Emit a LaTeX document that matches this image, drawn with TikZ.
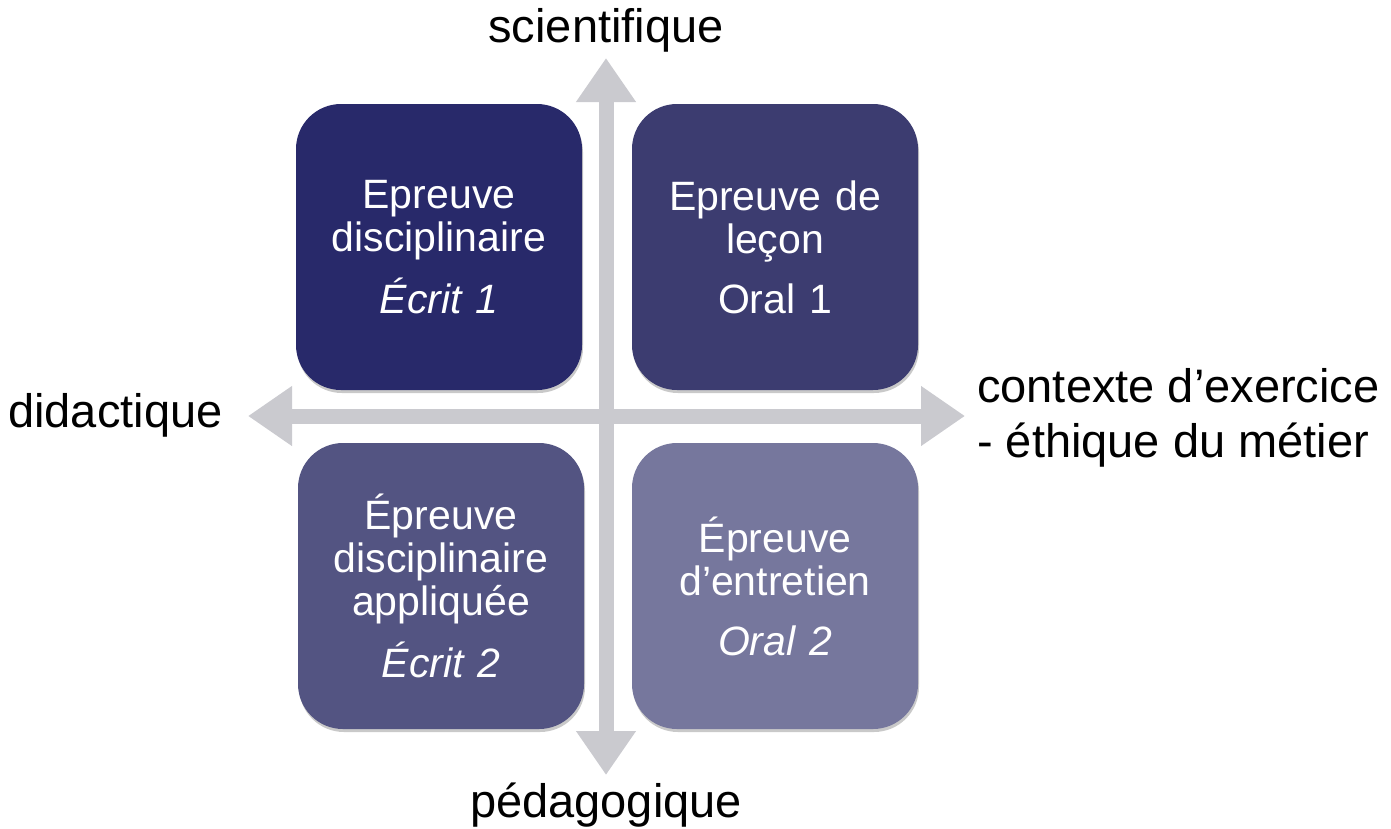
\documentclass[tikz,border=0pt]{standalone}
\usepackage{fontspec}
\setmainfont{Liberation Sans}
\usetikzlibrary{arrows.meta,shadows}
\definecolor{boxA}{HTML}{28296A}
\definecolor{boxB}{HTML}{3C3C70}
\definecolor{boxC}{HTML}{535482}
\definecolor{boxD}{HTML}{76779D}
\definecolor{axisgray}{HTML}{CACACF}
\begin{document}
\begin{tikzpicture}[x=1pt,y=-1pt,
  quad/.style={rounded corners=45pt, minimum width=286pt, minimum height=286pt,
    text width=276pt, align=center, text=white, inner sep=0pt,
    font=\fontsize{41}{43}\selectfont,
    drop shadow={shadow xshift=1pt, shadow yshift=-3pt, opacity=0.3, fill=black!70}},
  axis/.style={draw=axisgray, line width=15pt,
    {Triangle[width=57pt,length=44pt]}-{Triangle[width=57pt,length=44pt]}},
  lbl/.style={font=\fontsize{47}{48}\selectfont, text=black, inner sep=0pt}]
\useasboundingbox (0,0) rectangle (1391,828);
% axes
\coordinate (ntip) at (606,58);
\coordinate (stip) at (606,775);
\coordinate (wtip) at (248,416);
\coordinate (etip) at (965,416);
\draw[axis] (stip) -- (ntip);
\draw[axis] (wtip) -- (etip);
% boxes
\node[quad, fill=boxA] (tl) at (439,247) {Epreuve\\disciplinaire\\[17pt]\textit{Écrit 1}};
\node[quad, fill=boxB] (tr) at (775,247) {Epreuve de\\leçon\\[17pt]Oral 1};
\node[quad, fill=boxC] (bl) at (441,586) {Épreuve\\disciplinaire\\appliquée\\[17pt]\textit{Écrit 2}};
\node[quad, fill=boxD] (br) at (775,586) {Épreuve\\d’entretien\\[17pt]\textit{Oral 2}};
% labels
\node[lbl, anchor=base] (sci) at (606,42) {scientifique};
\node[lbl, anchor=base] (ped) at (606,817) {pédagogique};
\node[lbl, anchor=base west] (did) at (8,427) {didactique};
\node[lbl, anchor=west, align=left, font=\fontsize{47}{55}\selectfont] (ctx) at (977,418) {contexte d’exercice\\- éthique du métier};
\end{tikzpicture}
\end{document}
